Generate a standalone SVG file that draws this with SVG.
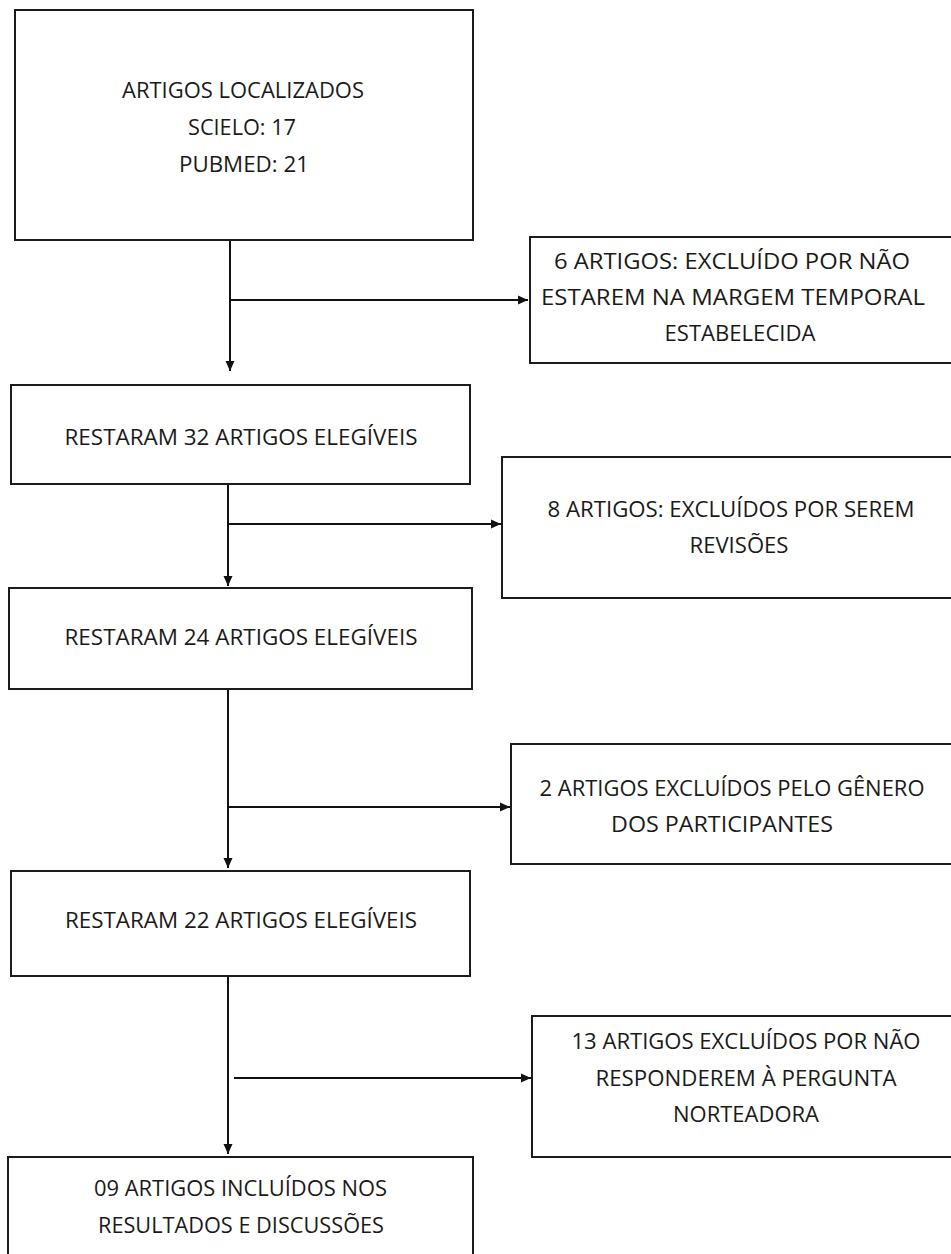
<svg xmlns="http://www.w3.org/2000/svg" width="951" height="1254" viewBox="0 0 951 1254">
<defs>
<marker id="ah" viewBox="0 0 10 10" refX="10" refY="5" markerWidth="10" markerHeight="10" markerUnits="userSpaceOnUse" orient="auto"><path d="M0,0.5 L10,5 L0,9.5 Z" fill="#111"/></marker>
<style>
.box{fill:#fff;stroke:#1c1c1c;stroke-width:2}
.t{font-family:"Open Sans","Noto Sans",sans-serif;font-size:22.5px;fill:#1a1a1a;text-anchor:middle}
.c{stroke:#111;stroke-width:2;fill:none}
</style>
</defs>
<rect width="951" height="1254" fill="#fff"/>
<g id="connectors">
<line class="c" x1="230" y1="240" x2="230" y2="371" marker-end="url(#ah)"/>
<line class="c" x1="230" y1="300" x2="528" y2="300" marker-end="url(#ah)"/>
<line class="c" x1="228" y1="484" x2="228" y2="586" marker-end="url(#ah)"/>
<line class="c" x1="228" y1="524" x2="501" y2="524" marker-end="url(#ah)"/>
<line class="c" x1="228" y1="689" x2="228" y2="868" marker-end="url(#ah)"/>
<line class="c" x1="228" y1="807" x2="510" y2="807" marker-end="url(#ah)"/>
<line class="c" x1="228" y1="976" x2="228" y2="1154" marker-end="url(#ah)"/>
<line class="c" x1="234" y1="1078" x2="531" y2="1078" marker-end="url(#ah)"/>
</g>
<g id="n1">
<rect class="box" x="15" y="10" width="458" height="230"/>
<text class="t" x="243" y="98" textLength="242" lengthAdjust="spacingAndGlyphs">ARTIGOS LOCALIZADOS</text>
<text class="t" x="242" y="135" textLength="108" lengthAdjust="spacingAndGlyphs">SCIELO: 17</text>
<text class="t" x="244" y="172" textLength="130" lengthAdjust="spacingAndGlyphs">PUBMED: 21</text>
</g>
<g id="n2">
<rect class="box" x="530" y="237" width="430" height="126"/>
<text class="t" x="732" y="269" textLength="356" lengthAdjust="spacingAndGlyphs">6 ARTIGOS: EXCLUÍDO POR NÃO</text>
<text class="t" x="733" y="305" textLength="384" lengthAdjust="spacingAndGlyphs">ESTAREM NA MARGEM TEMPORAL</text>
<text class="t" x="740" y="341" textLength="151" lengthAdjust="spacingAndGlyphs">ESTABELECIDA</text>
</g>
<g id="n3">
<rect class="box" x="11" y="385" width="459" height="99"/>
<text class="t" x="241" y="445" textLength="353" lengthAdjust="spacingAndGlyphs">RESTARAM 32 ARTIGOS ELEGÍVEIS</text>
</g>
<g id="n4">
<rect class="box" x="502" y="457" width="458" height="141"/>
<text class="t" x="731" y="517" textLength="367" lengthAdjust="spacingAndGlyphs">8 ARTIGOS: EXCLUÍDOS POR SEREM</text>
<text class="t" x="739" y="553" textLength="99" lengthAdjust="spacingAndGlyphs">REVISÕES</text>
</g>
<g id="n5">
<rect class="box" x="9" y="588" width="463" height="101"/>
<text class="t" x="241" y="645" textLength="353" lengthAdjust="spacingAndGlyphs">RESTARAM 24 ARTIGOS ELEGÍVEIS</text>
</g>
<g id="n6">
<rect class="box" x="511" y="744" width="449" height="120"/>
<text class="t" x="732" y="796" textLength="385" lengthAdjust="spacingAndGlyphs">2 ARTIGOS EXCLUÍDOS PELO GÊNERO</text>
<text class="t" x="722" y="832" textLength="222" lengthAdjust="spacingAndGlyphs">DOS PARTICIPANTES</text>
</g>
<g id="n7">
<rect class="box" x="11" y="871" width="459" height="105"/>
<text class="t" x="241" y="928" textLength="352" lengthAdjust="spacingAndGlyphs">RESTARAM 22 ARTIGOS ELEGÍVEIS</text>
</g>
<g id="n8">
<rect class="box" x="532" y="1016" width="428" height="141"/>
<text class="t" x="746" y="1049" textLength="349" lengthAdjust="spacingAndGlyphs">13 ARTIGOS EXCLUÍDOS POR NÃO</text>
<text class="t" x="746" y="1086" textLength="301" lengthAdjust="spacingAndGlyphs">RESPONDEREM À PERGUNTA</text>
<text class="t" x="746" y="1122" textLength="146" lengthAdjust="spacingAndGlyphs">NORTEADORA</text>
</g>
<g id="n9">
<rect class="box" x="8" y="1157" width="465" height="120"/>
<text class="t" x="240.5" y="1196" textLength="293" lengthAdjust="spacingAndGlyphs">09 ARTIGOS INCLUÍDOS NOS</text>
<text class="t" x="241" y="1233" textLength="286" lengthAdjust="spacingAndGlyphs">RESULTADOS E DISCUSSÕES</text>
</g>
</svg>
